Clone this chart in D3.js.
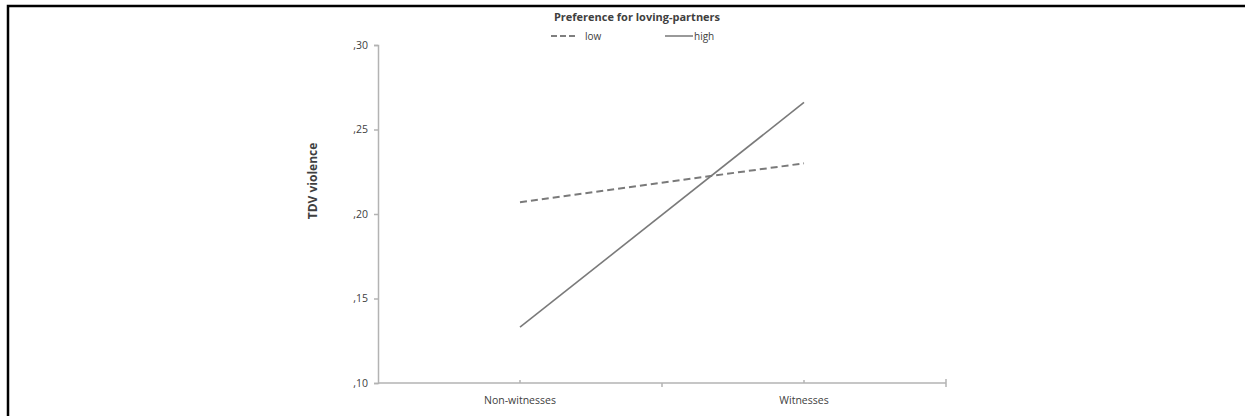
<!DOCTYPE html>
<html>
<head>
<meta charset="utf-8">
<script src="https://cdn.jsdelivr.net/npm/d3@7"></script>
<style>
  body { margin: 0; background: #fff; }
  text { font-family: "Open Sans", "Noto Sans", sans-serif; fill: #404040; }
</style>
</head>
<body>
<svg id="chart" width="1245" height="416"></svg>
<script>
// data
const categories = ["Non-witnesses", "Witnesses"];
const seriesNames = ["low", "high"];
const lowValues = [0.207, 0.230];
const highValues = [0.133, 0.266];
const yTicks = [0.10, 0.15, 0.20, 0.25, 0.30];

const width = 1245, height = 416;
const margin = { top: 45, right: 299, bottom: 33, left: 378 };
const svg = d3.select("#chart");

// frame (top + left edges only, like the source crop)
svg.append("path")
    .attr("d", `M8,${height} V6 H${width}`)
    .attr("fill", "none").attr("stroke", "#000").attr("stroke-width", 2.5);

const x = d3.scaleBand().domain(categories)
    .range([margin.left, width - margin.right]).paddingInner(0).paddingOuter(0);
const y = d3.scaleLinear().domain([0.10, 0.30]).range([height - margin.bottom, margin.top]);
const cx = d => x(d) + x.bandwidth() / 2;

const axisColor = "#b3b3b3";

// y axis
const gY = svg.append("g").attr("transform", `translate(${margin.left},0)`);
gY.call(d3.axisLeft(y).tickValues(yTicks).tickSize(4).tickPadding(6)
        .tickFormat(d => d3.format(".2f")(d).replace("0.", ",")))
    .call(g => g.select(".domain").attr("stroke", axisColor).attr("stroke-width", 1.5))
    .call(g => g.selectAll(".tick line").attr("stroke", axisColor).attr("stroke-width", 1.5))
    .call(g => g.selectAll(".tick text").attr("font-size", 10.5).attr("fill", "#404040")
        .style("font-family", "'Open Sans', sans-serif"));

// x axis
const y0 = y(0.10);
const gX = svg.append("g");
gX.append("line")
    .attr("x1", margin.left).attr("x2", width - margin.right)
    .attr("y1", y0).attr("y2", y0)
    .attr("stroke", axisColor).attr("stroke-width", 1.5);
// boundary ticks (down) and center ticks (up)
const bounds = [x(categories[1]), width - margin.right];
gX.selectAll(".bt").data(bounds).join("line")
    .attr("x1", d => d).attr("x2", d => d)
    .attr("y1", y0).attr("y2", y0 + 4)
    .attr("stroke", axisColor).attr("stroke-width", 1.5);
gX.append("line")
    .attr("x1", width - margin.right).attr("x2", width - margin.right)
    .attr("y1", y0 - 4).attr("y2", y0)
    .attr("stroke", axisColor).attr("stroke-width", 1.5);
gX.selectAll(".ct").data(categories).join("line")
    .attr("x1", d => cx(d)).attr("x2", d => cx(d))
    .attr("y1", y0 - 3).attr("y2", y0)
    .attr("stroke", axisColor).attr("stroke-width", 1.5);
gX.selectAll(".lbl").data(categories).join("text")
    .attr("x", d => cx(d)).attr("y", y0 + 21)
    .attr("text-anchor", "middle").attr("font-size", 10.5)
    .text(d => d);

// y title
svg.append("text")
    .attr("transform", `translate(317,${(margin.top + y0) / 2 - 33}) rotate(-90)`)
    .attr("text-anchor", "middle").attr("font-size", 12).attr("font-weight", "bold")
    .attr("fill", "#262626")
    .text("TDV violence");

// lines
const line = d3.line().x((d, i) => cx(categories[i])).y(d => y(d));
const lineColor = "#7a7a7a";
svg.append("path").datum(lowValues)
    .attr("d", line).attr("fill", "none")
    .attr("stroke", lineColor).attr("stroke-width", 2).attr("stroke-dasharray", "7,4");
svg.append("path").datum(highValues)
    .attr("d", line).attr("fill", "none")
    .attr("stroke", lineColor).attr("stroke-width", 1.6);

// legend
svg.append("text")
    .attr("x", 637).attr("y", 21)
    .attr("text-anchor", "middle").attr("font-size", 11).attr("font-weight", "bold")
    .attr("fill", "#262626")
    .text("Preference for loving-partners");

const legendItems = [
    { name: seriesNames[0], x: 551, len: 25, dash: "6,3", sw: 1.6 },
    { name: seriesNames[1], x: 665, len: 28, dash: null, sw: 1.2 }
];
const lg = svg.append("g").selectAll("g").data(legendItems).join("g");
lg.append("line")
    .attr("x1", d => d.x).attr("x2", d => d.x + d.len)
    .attr("y1", 36).attr("y2", 36)
    .attr("stroke", "#555").attr("stroke-width", d => d.sw)
    .attr("stroke-dasharray", d => d.dash);
lg.append("text")
    .attr("x", d => d.x + d.len + (d.dash ? 9 : 1)).attr("y", 39.5)
    .attr("font-size", 10)
    .text(d => d.name);
</script>
</body>
</html>
